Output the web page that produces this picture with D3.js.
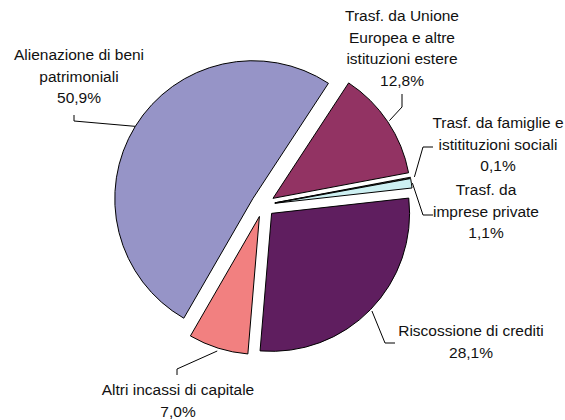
<!DOCTYPE html>
<html>
<head>
<meta charset="utf-8">
<script src="https://cdn.jsdelivr.net/npm/d3@7/dist/d3.min.js"></script>
<style>
  html, body { margin: 0; padding: 0; background: #fff; }
  svg { display: block; }
  text { font-family: "Liberation Sans", Arial, sans-serif; font-size: 15.5px; fill: #111; }
</style>
</head>
<body>
<svg id="chart" width="565" height="420"></svg>
<script>
// Entrate in conto capitale: composizione percentuale
const categories = [
  "Alienazione di beni patrimoniali",
  "Trasf. da Unione Europea e altre istituzioni estere",
  "Trasf. da famiglie e istitituzioni sociali",
  "Trasf. da imprese private",
  "Riscossione di crediti",
  "Altri incassi di capitale"
];
const values = [50.9, 12.8, 0.1, 1.1, 28.1, 7.0];
const labelLines = [
  ["Alienazione di beni", "patrimoniali"],
  ["Trasf. da Unione", "Europea e altre", "istituzioni estere"],
  ["Trasf. da famiglie e", "istitituzioni sociali"],
  ["Trasf. da", "imprese private"],
  ["Riscossione di crediti"],
  ["Altri incassi di capitale"]
];
const colors = ["#9694c7", "#923363", "#fdfdd0", "#cdf0f2", "#5f1e5f", "#f28080"];

// label placement: text centre x, first baseline y, leader elbow and start
const labelLayout = [
  { x: 79,  y: 60,  elbow: [74, 121],  start: [74, 115],  reach: 0 },
  { x: 402, y: 21,  elbow: [402, 107], start: [402, 94],  reach: 2 },
  { x: 498, y: 128, elbow: [423, 147], start: [433, 147], reach: 4 },
  { x: 486, y: 195, elbow: [423, 215], start: [433, 215], reach: 1 },
  { x: 471, y: 336, elbow: [385, 343], start: [395, 343], reach: 2 },
  { x: 178, y: 395, elbow: [177, 369], start: [177, 375], reach: 3 }
];

const cx = 263, cy = 205, radius = 138, explode = 12;
const lineH = 21.5;
const fmt = v => d3.format(".1f")(v).replace(".", ",") + "%";

const svg = d3.select("#chart");
const pie = d3.pie().sort(null).value(d => d)
  .startAngle(210 * Math.PI / 180)
  .endAngle(210 * Math.PI / 180 + 2 * Math.PI);
const arcs = pie(values);
const arc = d3.arc().innerRadius(0).outerRadius(radius);

const g = svg.append("g").attr("transform", `translate(${cx},${cy})`);

function offset(a) {
  const mid = (a.startAngle + a.endAngle) / 2;
  return [explode * Math.sin(mid), -explode * Math.cos(mid)];
}

g.selectAll("path.slice")
  .data(arcs)
  .join("path")
  .attr("class", "slice")
  .attr("transform", d => { const o = offset(d); return `translate(${o[0]},${o[1]})`; })
  .attr("d", arc)
  .attr("fill", (d, i) => colors[i])
  .attr("stroke", "#000")
  .attr("stroke-width", 1)
  .attr("stroke-linejoin", "round");

// leader lines from each slice's outer edge to its label
arcs.forEach((a, i) => {
  const L = labelLayout[i];
  const mid = (a.startAngle + a.endAngle) / 2;
  const o = offset(a);
  const rr = radius + L.reach;
  const px = cx + o[0] + rr * Math.sin(mid);
  const py = cy + o[1] - rr * Math.cos(mid);
  svg.append("polyline")
    .attr("points", [L.start, L.elbow, [px, py]].map(p => p.join(",")).join(" "))
    .attr("fill", "none")
    .attr("stroke", "#000")
    .attr("stroke-width", 1);

  const t = svg.append("text")
    .attr("text-anchor", "middle")
    .attr("x", L.x)
    .attr("y", L.y);
  const lines = labelLines[i].concat([fmt(values[i])]);
  lines.forEach((s, k) => {
    t.append("tspan").attr("x", L.x).attr("dy", k === 0 ? 0 : lineH).text(s);
  });
});
</script>
</body>
</html>
